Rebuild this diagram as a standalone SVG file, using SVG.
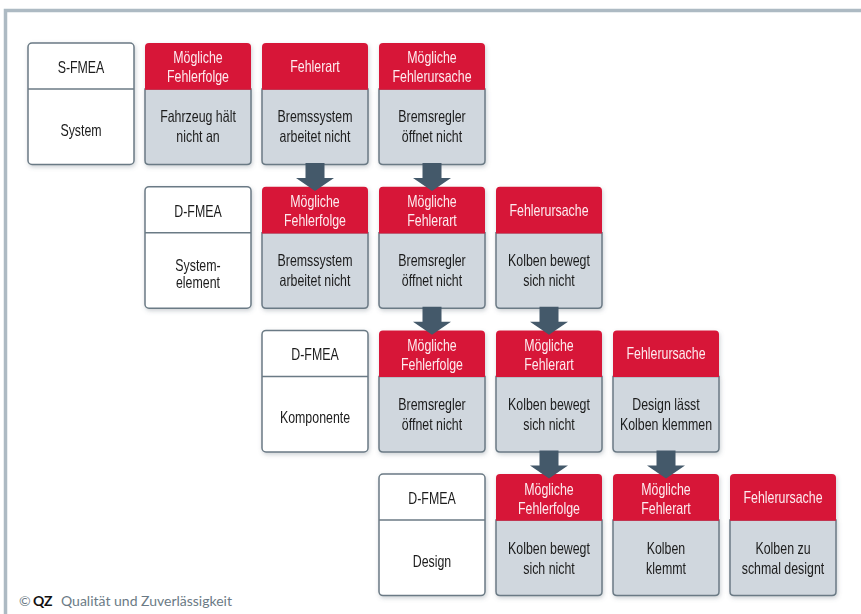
<svg xmlns="http://www.w3.org/2000/svg" width="861" height="614" viewBox="0 0 861 614">
<defs>
<filter id="sh" x="-10%" y="-10%" width="130%" height="130%">
<feDropShadow dx="1" dy="2" stdDeviation="2" flood-color="#5a6a75" flood-opacity="0.3"/>
</filter>
</defs>
<style>
.hd{fill:#d71639}
.bd{fill:#d0d7de;stroke:#6b7a85;stroke-width:1.5}
.lb{fill:#ffffff;stroke:#6b7a85;stroke-width:1.5}
.dv{stroke:#6b7a85;stroke-width:1.5}
text{font-family:"Liberation Sans",Arial,sans-serif;font-size:16.5px;text-anchor:middle}
.ht{fill:#fdecef}
.bt{fill:#1c1c1c}
.ar{fill:#44596a}
.ft{font-family:Lato,"Open Sans",sans-serif;font-size:14px;text-anchor:start}
</style>
<path d="M5.5,620V10.5H870" fill="none" stroke="#adbac3" stroke-width="3.5"/>

<!-- Row 0 -->
<g id="lab-r0" transform="translate(28,43)" filter="url(#sh)">
<rect class="lb" width="106" height="121.5" rx="4"/><line class="dv" x1="0" y1="46" x2="106" y2="46"/>
<g transform="translate(53,0) scale(0.75,1)"><text class="bt" y="30.5">S-FMEA</text><text class="bt" y="92.7">System</text></g>
</g>
<g id="n-r0c1" transform="translate(145,43)" filter="url(#sh)">
<path class="bd" d="M0,46H106V117.5Q106,121.5 102,121.5H4Q0,121.5 0,117.5Z"/><path class="hd" d="M0,46.7V4Q0,0 4,0H102Q106,0 106,4V46.7Z"/>
<g transform="translate(53,0) scale(0.75,1)"><text class="ht" y="20.5">Mögliche</text><text class="ht" y="39.5">Fehlerfolge</text>
<text class="bt" y="79.5">Fahrzeug hält</text><text class="bt" y="99.5">nicht an</text></g>
</g>
<g id="n-r0c2" transform="translate(262,43)" filter="url(#sh)">
<path class="bd" d="M0,46H106V117.5Q106,121.5 102,121.5H4Q0,121.5 0,117.5Z"/><path class="hd" d="M0,46.7V4Q0,0 4,0H102Q106,0 106,4V46.7Z"/>
<g transform="translate(53,0) scale(0.75,1)"><text class="ht" y="29">Fehlerart</text>
<text class="bt" y="79.5">Bremssystem</text><text class="bt" y="99.5">arbeitet nicht</text></g>
</g>
<g id="n-r0c3" transform="translate(379,43)" filter="url(#sh)">
<path class="bd" d="M0,46H106V117.5Q106,121.5 102,121.5H4Q0,121.5 0,117.5Z"/><path class="hd" d="M0,46.7V4Q0,0 4,0H102Q106,0 106,4V46.7Z"/>
<g transform="translate(53,0) scale(0.75,1)"><text class="ht" y="20.5">Mögliche</text><text class="ht" y="39.5">Fehlerursache</text>
<text class="bt" y="79.5">Bremsregler</text><text class="bt" y="99.5">öffnet nicht</text></g>
</g>

<!-- Row 1 -->
<g id="lab-r1" transform="translate(145,186.7)" filter="url(#sh)">
<rect class="lb" width="106" height="121.5" rx="4"/><line class="dv" x1="0" y1="46" x2="106" y2="46"/>
<g transform="translate(53,0) scale(0.75,1)"><text class="bt" y="30">D-FMEA</text><text class="bt" y="84">System-</text><text class="bt" y="101.5">element</text></g>
</g>
<g id="n-r1c2" transform="translate(262,186.7)" filter="url(#sh)">
<path class="bd" d="M0,46H106V117.5Q106,121.5 102,121.5H4Q0,121.5 0,117.5Z"/><path class="hd" d="M0,46.7V4Q0,0 4,0H102Q106,0 106,4V46.7Z"/>
<g transform="translate(53,0) scale(0.75,1)"><text class="ht" y="20.5">Mögliche</text><text class="ht" y="39.5">Fehlerfolge</text>
<text class="bt" y="79.5">Bremssystem</text><text class="bt" y="99.5">arbeitet nicht</text></g>
</g>
<g id="n-r1c3" transform="translate(379,186.7)" filter="url(#sh)">
<path class="bd" d="M0,46H106V117.5Q106,121.5 102,121.5H4Q0,121.5 0,117.5Z"/><path class="hd" d="M0,46.7V4Q0,0 4,0H102Q106,0 106,4V46.7Z"/>
<g transform="translate(53,0) scale(0.75,1)"><text class="ht" y="20.5">Mögliche</text><text class="ht" y="39.5">Fehlerart</text>
<text class="bt" y="79.5">Bremsregler</text><text class="bt" y="99.5">öffnet nicht</text></g>
</g>
<g id="n-r1c4" transform="translate(496,186.7)" filter="url(#sh)">
<path class="bd" d="M0,46H106V117.5Q106,121.5 102,121.5H4Q0,121.5 0,117.5Z"/><path class="hd" d="M0,46.7V4Q0,0 4,0H102Q106,0 106,4V46.7Z"/>
<g transform="translate(53,0) scale(0.75,1)"><text class="ht" y="29">Fehlerursache</text>
<text class="bt" y="79.5">Kolben bewegt</text><text class="bt" y="99.5">sich nicht</text></g>
</g>

<!-- Row 2 -->
<g id="lab-r2" transform="translate(262,330.4)" filter="url(#sh)">
<rect class="lb" width="106" height="121.5" rx="4"/><line class="dv" x1="0" y1="46" x2="106" y2="46"/>
<g transform="translate(53,0) scale(0.75,1)"><text class="bt" y="30">D-FMEA</text><text class="bt" y="92.7">Komponente</text></g>
</g>
<g id="n-r2c3" transform="translate(379,330.4)" filter="url(#sh)">
<path class="bd" d="M0,46H106V117.5Q106,121.5 102,121.5H4Q0,121.5 0,117.5Z"/><path class="hd" d="M0,46.7V4Q0,0 4,0H102Q106,0 106,4V46.7Z"/>
<g transform="translate(53,0) scale(0.75,1)"><text class="ht" y="20.5">Mögliche</text><text class="ht" y="39.5">Fehlerfolge</text>
<text class="bt" y="79.5">Bremsregler</text><text class="bt" y="99.5">öffnet nicht</text></g>
</g>
<g id="n-r2c4" transform="translate(496,330.4)" filter="url(#sh)">
<path class="bd" d="M0,46H106V117.5Q106,121.5 102,121.5H4Q0,121.5 0,117.5Z"/><path class="hd" d="M0,46.7V4Q0,0 4,0H102Q106,0 106,4V46.7Z"/>
<g transform="translate(53,0) scale(0.75,1)"><text class="ht" y="20.5">Mögliche</text><text class="ht" y="39.5">Fehlerart</text>
<text class="bt" y="79.5">Kolben bewegt</text><text class="bt" y="99.5">sich nicht</text></g>
</g>
<g id="n-r2c5" transform="translate(613,330.4)" filter="url(#sh)">
<path class="bd" d="M0,46H106V117.5Q106,121.5 102,121.5H4Q0,121.5 0,117.5Z"/><path class="hd" d="M0,46.7V4Q0,0 4,0H102Q106,0 106,4V46.7Z"/>
<g transform="translate(53,0) scale(0.75,1)"><text class="ht" y="29">Fehlerursache</text>
<text class="bt" y="79.5">Design lässt</text><text class="bt" y="99.5">Kolben klemmen</text></g>
</g>

<!-- Row 3 -->
<g id="lab-r3" transform="translate(379,474.1)" filter="url(#sh)">
<rect class="lb" width="106" height="121.5" rx="4"/><line class="dv" x1="0" y1="46" x2="106" y2="46"/>
<g transform="translate(53,0) scale(0.75,1)"><text class="bt" y="30">D-FMEA</text><text class="bt" y="92.7">Design</text></g>
</g>
<g id="n-r3c4" transform="translate(496,474.1)" filter="url(#sh)">
<path class="bd" d="M0,46H106V117.5Q106,121.5 102,121.5H4Q0,121.5 0,117.5Z"/><path class="hd" d="M0,46.7V4Q0,0 4,0H102Q106,0 106,4V46.7Z"/>
<g transform="translate(53,0) scale(0.75,1)"><text class="ht" y="20.5">Mögliche</text><text class="ht" y="39.5">Fehlerfolge</text>
<text class="bt" y="79.5">Kolben bewegt</text><text class="bt" y="99.5">sich nicht</text></g>
</g>
<g id="n-r3c5" transform="translate(613,474.1)" filter="url(#sh)">
<path class="bd" d="M0,46H106V117.5Q106,121.5 102,121.5H4Q0,121.5 0,117.5Z"/><path class="hd" d="M0,46.7V4Q0,0 4,0H102Q106,0 106,4V46.7Z"/>
<g transform="translate(53,0) scale(0.75,1)"><text class="ht" y="20.5">Mögliche</text><text class="ht" y="39.5">Fehlerart</text>
<text class="bt" y="79.5">Kolben</text><text class="bt" y="99.5">klemmt</text></g>
</g>
<g id="n-r3c6" transform="translate(730,474.1)" filter="url(#sh)">
<path class="bd" d="M0,46H106V117.5Q106,121.5 102,121.5H4Q0,121.5 0,117.5Z"/><path class="hd" d="M0,46.7V4Q0,0 4,0H102Q106,0 106,4V46.7Z"/>
<g transform="translate(53,0) scale(0.75,1)"><text class="ht" y="29">Fehlerursache</text>
<text class="bt" y="79.5">Kolben zu</text><text class="bt" y="99.5">schmal designt</text></g>
</g>

<!-- Connectors -->
<g id="connectors">
<path class="ar" transform="translate(315,0)" d="M-9.5,163H9.5V178H19L0,191L-19,178H-9.5Z"/>
<path class="ar" transform="translate(432,0)" d="M-9.5,163H9.5V178H19L0,191L-19,178H-9.5Z"/>
<path class="ar" transform="translate(432,143.7)" d="M-9.5,163H9.5V178H19L0,191L-19,178H-9.5Z"/>
<path class="ar" transform="translate(549,143.7)" d="M-9.5,163H9.5V178H19L0,191L-19,178H-9.5Z"/>
<path class="ar" transform="translate(549,287.4)" d="M-9.5,163H9.5V178H19L0,191L-19,178H-9.5Z"/>
<path class="ar" transform="translate(666,287.4)" d="M-9.5,163H9.5V178H19L0,191L-19,178H-9.5Z"/>
</g>

<text class="ft" x="19" y="606" fill="#6b7a85">©</text>
<text class="ft" x="33" y="606" fill="#111" font-weight="bold">QZ</text>
<text class="ft" x="61" y="606" fill="#6b7a85">Qualität und Zuverlässigkeit</text>
</svg>
